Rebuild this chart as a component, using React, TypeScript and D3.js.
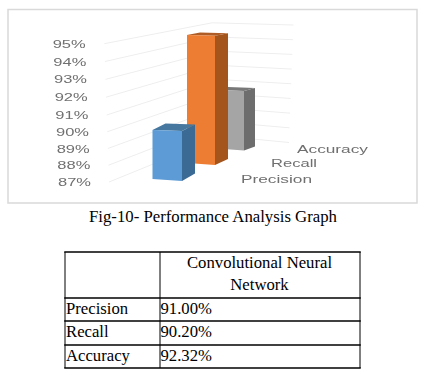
import React from "react";
import * as d3 from "d3";

const categories = ["Precision", "Recall", "Accuracy"];
const barValues = [90, 95, 91];
const baseValue = 87;
const ticks = [87, 88, 89, 90, 91, 92, 93, 94, 95];
const frontColors = ["#5b9bd5", "#ed7d31", "#a5a5a5"];
const sideColors = ["#3b6a94", "#a3541f", "#6d6d6d"];
const topColors = ["#44779f", "#b05c25", "#787878"];
const tableHead = ["Convolutional Neural", "Network"];
const tableRows = ["Precision", "Recall", "Accuracy"];
const tableValues = ["91.00%", "90.20%", "92.32%"];
const caption = "Fig-10- Performance Analysis Graph";

// perspective helpers, indexed by tick value or category position
const tickDom = [87, 91, 95];
const leftY = d3.scaleLinear().domain(tickDom).range([182, 115, 43.7]);
const leftX = d3.scaleLinear().domain([87, 95]).range([109, 104.3]);
const cornerY = d3.scaleLinear().domain([87, 95]).range([136, 22.8]);
const cornerX = d3.scaleLinear().domain([87, 95]).range([222, 212]);
const rightY = d3.scaleLinear().domain([87, 95]).range([142.5, 25]);
const rightX = d3.scaleLinear().domain([87, 95]).range([289, 293.5]);
const labelRight = d3.scaleLinear().domain([87, 95]).range([91, 85.7]);

const idx = [0, 1, 2];
const barLeft = d3.scaleLinear().domain(idx).range([152.5, 187, 217]);
const barWidth = d3.scaleLinear().domain(idx).range([29.5, 28, 27]);
const barBase = d3.scaleLinear().domain(idx).range([179, 163, 148.5]);
const unit = d3.scaleLinear().domain(idx).range([16.3, 16, 14.6]);
const depthX = d3.scaleLinear().domain(idx).range([13, 13, 11]);
const topDy = d3.scaleLinear().domain(idx).range([6.5, 2.5, 3]);
const baseDy = d3.scaleLinear().domain(idx).range([7.5, 6, 4]);
const frontDrop = 2;

const catLabel = [
  { x: 241, w: 71, y: 183 },
  { x: 271, w: 46, y: 167 },
  { x: 297, w: 71, y: 153 },
];

const poly = (pts: [number, number][]) => (d3.line()(pts) ?? "") + "Z";
const gridPath = d3.line();

const Bar = ({ i }: { i: number }) => {
  const x0 = barLeft(i);
  const x1 = x0 + barWidth(i);
  const h = (barValues[i] - baseValue) * unit(i);
  const yb = barBase(i);
  const yt = yb - h;
  const dx = depthX(i);
  const front: [number, number][] = [
    [x0, yt],
    [x1, yt + 0.8],
    [x1, yb + frontDrop],
    [x0, yb],
  ];
  const side: [number, number][] = [
    [x1, yt + 0.8],
    [x1 + dx, yt + 0.8 - topDy(i)],
    [x1 + dx, yb + frontDrop - baseDy(i)],
    [x1, yb + frontDrop],
  ];
  const top: [number, number][] = [
    [x0, yt],
    [x0 + dx, yt - topDy(i)],
    [x1 + dx, yt + 0.8 - topDy(i)],
    [x1, yt + 0.8],
  ];
  return (
    <g>
      <path d={poly(side)} fill={sideColors[i]} />
      <path d={poly(top)} fill={topColors[i]} />
      <path d={poly(front)} fill={frontColors[i]} />
    </g>
  );
};

const T = { fontFamily: "'Liberation Serif'", fill: "#000" };
const tx = { left: 65, mid: 160, right: 360 };
const rowLines = [252, 298, 321, 345, 368];

export default function App() {
  return (
    <svg
      width={433}
      height={372}
      viewBox="0 0 433 372"
      style={{ position: "absolute", left: 0, top: 0, background: "#fff" }}
    >
      <defs>
        <filter id="soft" x="-5%" y="-5%" width="110%" height="110%">
          <feGaussianBlur stdDeviation="0.35" />
        </filter>
      </defs>
      <rect x={8} y={9.5} width={409} height={193.5} fill="#fff" stroke="#d9d9d9" strokeWidth={1.5} />
      <g filter="url(#soft)">
        {ticks.map((t) => (
          <path
            key={t}
            d={
              gridPath([
                [leftX(t), leftY(t)],
                [cornerX(t), cornerY(t)],
                [rightX(t), rightY(t)],
              ]) ?? ""
            }
            fill="none"
            stroke="#eeeeee"
            strokeWidth={1}
          />
        ))}
        {[2, 1, 0].map((i) => (
          <Bar key={i} i={i} />
        ))}
        {ticks.map((t) => (
          <text
            key={t}
            x={labelRight(t) - 33}
            y={leftY(t) + 4}
            textLength={33}
            lengthAdjust="spacingAndGlyphs"
            fontFamily="'Liberation Sans'"
            fontSize={11}
            fill="#6f6f6f"
          >
            {t}%
          </text>
        ))}
        {categories.map((c, i) => (
          <text
            key={c}
            x={catLabel[i].x}
            y={catLabel[i].y}
            textLength={catLabel[i].w}
            lengthAdjust="spacingAndGlyphs"
            fontFamily="'Liberation Sans'"
            fontSize={11}
            fill="#6f6f6f"
          >
            {c}
          </text>
        ))}
      </g>
      <text x={89} y={222} textLength={248} lengthAdjust="spacingAndGlyphs" fontSize={16} {...T}>
        {caption}
      </text>
      {rowLines.map((y) => (
        <line key={y} x1={tx.left - 0.75} x2={tx.right + 0.75} y1={y} y2={y} stroke="#000" strokeWidth={1.5} />
      ))}
      {[tx.left, tx.mid, tx.right].map((x) => (
        <line key={x} x1={x} x2={x} y1={252} y2={368} stroke="#000" strokeWidth={1} />
      ))}
      {tableHead.map((s, i) => (
        <text key={s} x={259.5} y={268 + i * 22} textAnchor="middle" fontSize={16.7} {...T}>
          {s}
        </text>
      ))}
      {tableRows.map((r, i) => (
        <g key={r}>
          <text x={66} y={314 + i * 23.4} fontSize={16.7} {...T}>
            {r}
          </text>
          <text x={160.5} y={314 + i * 23.4} fontSize={16.7} {...T}>
            {tableValues[i]}
          </text>
        </g>
      ))}
    </svg>
  );
}
